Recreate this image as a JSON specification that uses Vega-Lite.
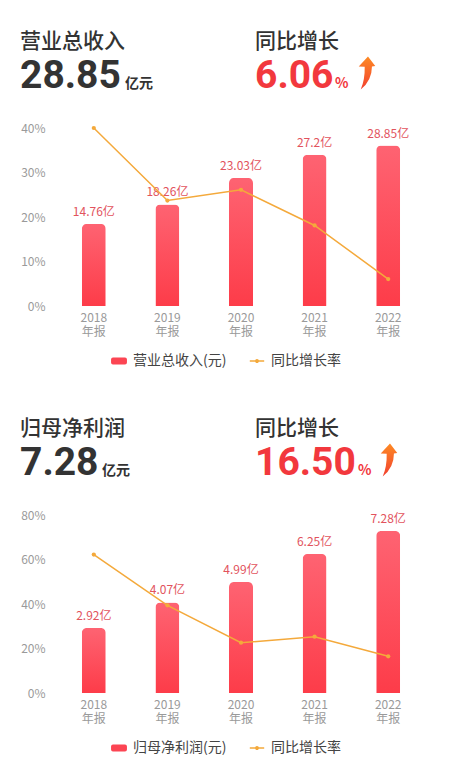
{
  "$schema": "https://vega.github.io/schema/vega-lite/v6.json",
  "description": "营业总收入与归母净利润年报柱线图",
  "background": "white",
  "padding": {"left": 20, "top": 0, "right": 0, "bottom": 0},
  "datasets": {
    "head1": [
      {"side": "left", "label": "营业总收入", "value": "28.85", "unit": "亿元"},
      {"side": "right", "label": "同比增长", "value": "6.06", "unit": "%"}
    ],
    "rev": [
      {"year": "2018", "amount": 14.76, "rate": 0.4},
      {"year": "2019", "amount": 18.26, "rate": 0.237},
      {"year": "2020", "amount": 23.03, "rate": 0.261},
      {"year": "2021", "amount": 27.2, "rate": 0.181},
      {"year": "2022", "amount": 28.85, "rate": 0.0606}
    ],
    "legend1": [{"series": "营业总收入(元)"}, {"series": "同比增长率"}],
    "head2": [
      {"side": "left", "label": "归母净利润", "value": "7.28", "unit": "亿元"},
      {"side": "right", "label": "同比增长", "value": "16.50", "unit": "%"}
    ],
    "profit": [
      {"year": "2018", "amount": 2.92, "rate": 0.622},
      {"year": "2019", "amount": 4.07, "rate": 0.394},
      {"year": "2020", "amount": 4.99, "rate": 0.226},
      {"year": "2021", "amount": 6.25, "rate": 0.253},
      {"year": "2022", "amount": 7.28, "rate": 0.165}
    ],
    "legend2": [{"series": "归母净利润(元)"}, {"series": "同比增长率"}]
  },
  "spacing": 19,
  "vconcat": [
    {
      "spacing": 12,
      "vconcat": [
        {
          "width": 368,
          "height": 110,
          "data": {"name": "head1"},
          "layer": [
            {
              "mark": {"type": "text", "align": "left", "baseline": "alphabetic", "fontSize": 21, "fontWeight": 500, "color": "#333333"},
              "encoding": {
                "x": {"field": "side", "type": "nominal", "scale": {"type": "point", "domain": ["left", "right"], "range": [-37, 198], "padding": 0}, "axis": null},
                "y": {"datum": "标题", "type": "nominal", "scale": {"type": "point", "domain": ["标题", "数值"], "range": [48, 88], "padding": 0}, "axis": null},
                "text": {"field": "label"}
              }
            },
            {
              "mark": {"type": "text", "align": "left", "baseline": "alphabetic", "font": "Roboto", "fontSize": 39, "fontWeight": "bold"},
              "encoding": {
                "x": {"field": "side", "type": "nominal", "scale": {"type": "point", "domain": ["left", "right"], "range": [-37, 198], "padding": 0}, "axis": null},
                "y": {"datum": "数值", "type": "nominal", "axis": null},
                "text": {"field": "value"},
                "color": {"field": "side", "type": "nominal", "scale": {"domain": ["left", "right"], "range": ["#333333", "#f2383d"]}, "legend": null}
              }
            },
            {
              "mark": {"type": "text", "align": "left", "baseline": "alphabetic", "fontSize": 14, "fontWeight": "bold"},
              "encoding": {
                "x": {"field": "side", "type": "nominal", "scale": {"type": "point", "domain": ["left", "right"], "range": [68, 278], "padding": 0}, "axis": null},
                "y": {"datum": "数值", "type": "nominal", "axis": null},
                "text": {"field": "unit"},
                "color": {"field": "side", "type": "nominal", "legend": null}
              }
            },
            {
              "transform": [{"filter": "datum.side === 'right'"}],
              "mark": {
                "type": "point",
                "shape": "M-0.38,1Q0.3,0.45,0.3,-0.4L0.5,-0.42L0.06,-1L-0.5,-0.4L-0.14,-0.38Q-0.12,0.4,-0.38,1Z",
                "size": 1089,
                "filled": true,
                "opacity": 1,
                "strokeWidth": 0,
                "yOffset": -15,
                "fill": {"gradient": "linear", "x1": 0, "y1": 0, "x2": 0, "y2": 1, "stops": [{"offset": 0, "color": "#fd8a24"}, {"offset": 1, "color": "#f2402f"}]}
              },
              "encoding": {
                "x": {"field": "side", "type": "nominal", "scale": {"type": "point", "domain": ["left", "right"], "range": [0, 310], "padding": 0}, "axis": null},
                "y": {"datum": "数值", "type": "nominal", "axis": null}
              }
            }
          ],
          "resolve": {"scale": {"x": "independent"}}
        },
        {
          "width": 368,
          "height": 178,
          "layer": [
            {
              "data": {"name": "rev"},
              "mark": {
                "type": "bar",
                "width": 24,
                "cornerRadiusTopLeft": 5,
                "cornerRadiusTopRight": 5,
                "color": {"gradient": "linear", "x1": 0, "y1": 0, "x2": 0, "y2": 1, "stops": [{"offset": 0, "color": "#fe6372"}, {"offset": 1, "color": "#fd3c49"}]}
              },
              "encoding": {
                "x": {"field": "year", "type": "nominal", "title": null, "axis": {"domain": false, "ticks": false, "labelAngle": 0, "labelExpr": "[datum.label, '年报']", "labelFontSize": 12, "labelLineHeight": 14, "labelColor": "#9a9a9a", "labelPadding": 6}},
                "y": {"field": "amount", "type": "quantitative", "scale": {"domain": [0, 32], "nice": false}, "axis": null}
              }
            },
            {
              "data": {"name": "rev"},
              "transform": [{"calculate": "datum.amount + '亿'", "as": "amountLabel"}],
              "mark": {"type": "text", "baseline": "bottom", "dy": -5, "fontSize": 12, "color": "#e2535d"},
              "encoding": {
                "x": {"field": "year", "type": "nominal"},
                "y": {"field": "amount", "type": "quantitative", "scale": {"domain": [0, 32], "nice": false}, "axis": null},
                "text": {"field": "amountLabel"}
              }
            },
            {
              "data": {"name": "rev"},
              "mark": {"type": "line", "color": "#f4a93b", "strokeWidth": 1.5, "point": {"filled": true, "size": 18, "color": "#f4a93b"}},
              "encoding": {
                "x": {"field": "year", "type": "nominal"},
                "y": {
                  "field": "rate", "type": "quantitative", "title": null,
                  "scale": {"domain": [0, 0.4], "nice": false},
                  "axis": {
                    "values": [0, 0.1, 0.2, 0.3, 0.4], "format": ".0%", "domain": false, "ticks": false,
                    "labelColor": "#9a9a9a", "labelFontSize": 12, "labelPadding": 12,
                    "gridColor": {"condition": {"test": "datum.value === 0", "value": "#cccccc"}, "value": "#ebebeb"},
                    "gridDash": {"condition": {"test": "datum.value === 0", "value": [4, 3]}, "value": []}
                  }
                }
              }
            },
            {
              "data": {"name": "legend1"},
              "mark": {"type": "point", "filled": true, "opacity": 0},
              "encoding": {
                "fill": {"field": "series", "type": "nominal", "scale": {"domain": ["营业总收入(元)", "同比增长率"], "range": ["#fc4553", "#f4a93b"]},
                  "legend": {"orient": "none", "legendX": 53, "legendY": 224, "direction": "horizontal", "title": null, "symbolSize": 256, "symbolStrokeWidth": 1.5, "symbolFillColor": "#fc4553", "symbolStrokeColor": "#fc4553", "labelFontSize": 14, "labelColor": "#444444", "labelOffset": 5, "columnPadding": 19}},
                "stroke": {"field": "series", "type": "nominal", "scale": {"domain": ["营业总收入(元)", "同比增长率"], "range": ["#fc4553", "#f4a93b"]},
                  "legend": {"orient": "none", "legendX": 53, "legendY": 224, "direction": "horizontal", "title": null, "symbolSize": 256, "symbolStrokeWidth": 1.5, "symbolFillColor": "#fc4553", "symbolStrokeColor": "#fc4553", "labelFontSize": 14, "labelColor": "#444444", "labelOffset": 5, "columnPadding": 19}},
                "shape": {"field": "series", "type": "nominal", "scale": {"domain": ["营业总收入(元)", "同比增长率"], "range": ["M-0.75,-0.35H0.75Q0.9,-0.35,0.9,-0.2V0.2Q0.9,0.35,0.75,0.35H-0.75Q-0.9,0.35,-0.9,0.2V-0.2Q-0.9,-0.35,-0.75,-0.35Z", "M-0.9,0H0.9M-0.15,0A0.15,0.15,0,1,1,0.15,0A0.15,0.15,0,1,1,-0.15,0Z"]},
                  "legend": {"orient": "none", "legendX": 53, "legendY": 224, "direction": "horizontal", "title": null, "symbolSize": 256, "symbolStrokeWidth": 1.5, "symbolFillColor": "#fc4553", "symbolStrokeColor": "#fc4553", "labelFontSize": 14, "labelColor": "#444444", "labelOffset": 5, "columnPadding": 19}}
              }
            }
          ],
          "resolve": {"scale": {"y": "independent"}}
        }
      ],
      "resolve": {
        "scale": {"x": "independent", "y": "independent", "color": "independent", "fill": "independent", "stroke": "independent", "shape": "independent"},
        "legend": {"color": "independent", "fill": "independent", "stroke": "independent", "shape": "independent"}
      }
    },
    {
      "spacing": 12,
      "vconcat": [
        {
          "width": 368,
          "height": 110,
          "data": {"name": "head2"},
          "layer": [
            {
              "mark": {"type": "text", "align": "left", "baseline": "alphabetic", "fontSize": 21, "fontWeight": 500, "color": "#333333"},
              "encoding": {
                "x": {"field": "side", "type": "nominal", "scale": {"type": "point", "domain": ["left", "right"], "range": [-37, 198], "padding": 0}, "axis": null},
                "y": {"datum": "标题", "type": "nominal", "scale": {"type": "point", "domain": ["标题", "数值"], "range": [48, 88], "padding": 0}, "axis": null},
                "text": {"field": "label"}
              }
            },
            {
              "mark": {"type": "text", "align": "left", "baseline": "alphabetic", "font": "Roboto", "fontSize": 39, "fontWeight": "bold"},
              "encoding": {
                "x": {"field": "side", "type": "nominal", "scale": {"type": "point", "domain": ["left", "right"], "range": [-37, 198], "padding": 0}, "axis": null},
                "y": {"datum": "数值", "type": "nominal", "axis": null},
                "text": {"field": "value"},
                "color": {"field": "side", "type": "nominal", "scale": {"domain": ["left", "right"], "range": ["#333333", "#f2383d"]}, "legend": null}
              }
            },
            {
              "mark": {"type": "text", "align": "left", "baseline": "alphabetic", "fontSize": 14, "fontWeight": "bold"},
              "encoding": {
                "x": {"field": "side", "type": "nominal", "scale": {"type": "point", "domain": ["left", "right"], "range": [45, 301], "padding": 0}, "axis": null},
                "y": {"datum": "数值", "type": "nominal", "axis": null},
                "text": {"field": "unit"},
                "color": {"field": "side", "type": "nominal", "legend": null}
              }
            },
            {
              "transform": [{"filter": "datum.side === 'right'"}],
              "mark": {
                "type": "point",
                "shape": "M-0.38,1Q0.3,0.45,0.3,-0.4L0.5,-0.42L0.06,-1L-0.5,-0.4L-0.14,-0.38Q-0.12,0.4,-0.38,1Z",
                "size": 1089,
                "filled": true,
                "opacity": 1,
                "strokeWidth": 0,
                "yOffset": -15,
                "fill": {"gradient": "linear", "x1": 0, "y1": 0, "x2": 0, "y2": 1, "stops": [{"offset": 0, "color": "#fd8a24"}, {"offset": 1, "color": "#f2402f"}]}
              },
              "encoding": {
                "x": {"field": "side", "type": "nominal", "scale": {"type": "point", "domain": ["left", "right"], "range": [0, 332], "padding": 0}, "axis": null},
                "y": {"datum": "数值", "type": "nominal", "axis": null}
              }
            }
          ],
          "resolve": {"scale": {"x": "independent"}}
        },
        {
          "width": 368,
          "height": 178,
          "layer": [
            {
              "data": {"name": "profit"},
              "mark": {
                "type": "bar",
                "width": 24,
                "cornerRadiusTopLeft": 5,
                "cornerRadiusTopRight": 5,
                "color": {"gradient": "linear", "x1": 0, "y1": 0, "x2": 0, "y2": 1, "stops": [{"offset": 0, "color": "#fe6372"}, {"offset": 1, "color": "#fd3c49"}]}
              },
              "encoding": {
                "x": {"field": "year", "type": "nominal", "title": null, "axis": {"domain": false, "ticks": false, "labelAngle": 0, "labelExpr": "[datum.label, '年报']", "labelFontSize": 12, "labelLineHeight": 14, "labelColor": "#9a9a9a", "labelPadding": 6}},
                "y": {"field": "amount", "type": "quantitative", "scale": {"domain": [0, 8], "nice": false}, "axis": null}
              }
            },
            {
              "data": {"name": "profit"},
              "transform": [{"calculate": "datum.amount + '亿'", "as": "amountLabel"}],
              "mark": {"type": "text", "baseline": "bottom", "dy": -5, "fontSize": 12, "color": "#e2535d"},
              "encoding": {
                "x": {"field": "year", "type": "nominal"},
                "y": {"field": "amount", "type": "quantitative", "scale": {"domain": [0, 8], "nice": false}, "axis": null},
                "text": {"field": "amountLabel"}
              }
            },
            {
              "data": {"name": "profit"},
              "mark": {"type": "line", "color": "#f4a93b", "strokeWidth": 1.5, "point": {"filled": true, "size": 18, "color": "#f4a93b"}},
              "encoding": {
                "x": {"field": "year", "type": "nominal"},
                "y": {
                  "field": "rate", "type": "quantitative", "title": null,
                  "scale": {"domain": [0, 0.8], "nice": false},
                  "axis": {
                    "values": [0, 0.2, 0.4, 0.6, 0.8], "format": ".0%", "domain": false, "ticks": false,
                    "labelColor": "#9a9a9a", "labelFontSize": 12, "labelPadding": 12,
                    "gridColor": {"condition": {"test": "datum.value === 0", "value": "#cccccc"}, "value": "#ebebeb"},
                    "gridDash": {"condition": {"test": "datum.value === 0", "value": [4, 3]}, "value": []}
                  }
                }
              }
            },
            {
              "data": {"name": "legend2"},
              "mark": {"type": "point", "filled": true, "opacity": 0},
              "encoding": {
                "fill": {"field": "series", "type": "nominal", "scale": {"domain": ["归母净利润(元)", "同比增长率"], "range": ["#fc4553", "#f4a93b"]},
                  "legend": {"orient": "none", "legendX": 53, "legendY": 224, "direction": "horizontal", "title": null, "symbolSize": 256, "symbolStrokeWidth": 1.5, "symbolFillColor": "#fc4553", "symbolStrokeColor": "#fc4553", "labelFontSize": 14, "labelColor": "#444444", "labelOffset": 5, "columnPadding": 19}},
                "stroke": {"field": "series", "type": "nominal", "scale": {"domain": ["归母净利润(元)", "同比增长率"], "range": ["#fc4553", "#f4a93b"]},
                  "legend": {"orient": "none", "legendX": 53, "legendY": 224, "direction": "horizontal", "title": null, "symbolSize": 256, "symbolStrokeWidth": 1.5, "symbolFillColor": "#fc4553", "symbolStrokeColor": "#fc4553", "labelFontSize": 14, "labelColor": "#444444", "labelOffset": 5, "columnPadding": 19}},
                "shape": {"field": "series", "type": "nominal", "scale": {"domain": ["归母净利润(元)", "同比增长率"], "range": ["M-0.75,-0.35H0.75Q0.9,-0.35,0.9,-0.2V0.2Q0.9,0.35,0.75,0.35H-0.75Q-0.9,0.35,-0.9,0.2V-0.2Q-0.9,-0.35,-0.75,-0.35Z", "M-0.9,0H0.9M-0.15,0A0.15,0.15,0,1,1,0.15,0A0.15,0.15,0,1,1,-0.15,0Z"]},
                  "legend": {"orient": "none", "legendX": 53, "legendY": 224, "direction": "horizontal", "title": null, "symbolSize": 256, "symbolStrokeWidth": 1.5, "symbolFillColor": "#fc4553", "symbolStrokeColor": "#fc4553", "labelFontSize": 14, "labelColor": "#444444", "labelOffset": 5, "columnPadding": 19}}
              }
            }
          ],
          "resolve": {"scale": {"y": "independent"}}
        }
      ],
      "resolve": {
        "scale": {"x": "independent", "y": "independent", "color": "independent", "fill": "independent", "stroke": "independent", "shape": "independent"},
        "legend": {"color": "independent", "fill": "independent", "stroke": "independent", "shape": "independent"}
      }
    }
  ],
  "resolve": {
    "scale": {"x": "independent", "y": "independent", "color": "independent", "fill": "independent", "stroke": "independent", "shape": "independent"},
    "legend": {"color": "independent", "fill": "independent", "stroke": "independent", "shape": "independent"}
  },
  "config": {
    "font": "Noto Sans CJK SC",
    "view": {"stroke": null},
    "axis": {"labelFont": "Noto Sans CJK SC"},
    "legend": {"labelFont": "Noto Sans CJK SC"}
  }
}
